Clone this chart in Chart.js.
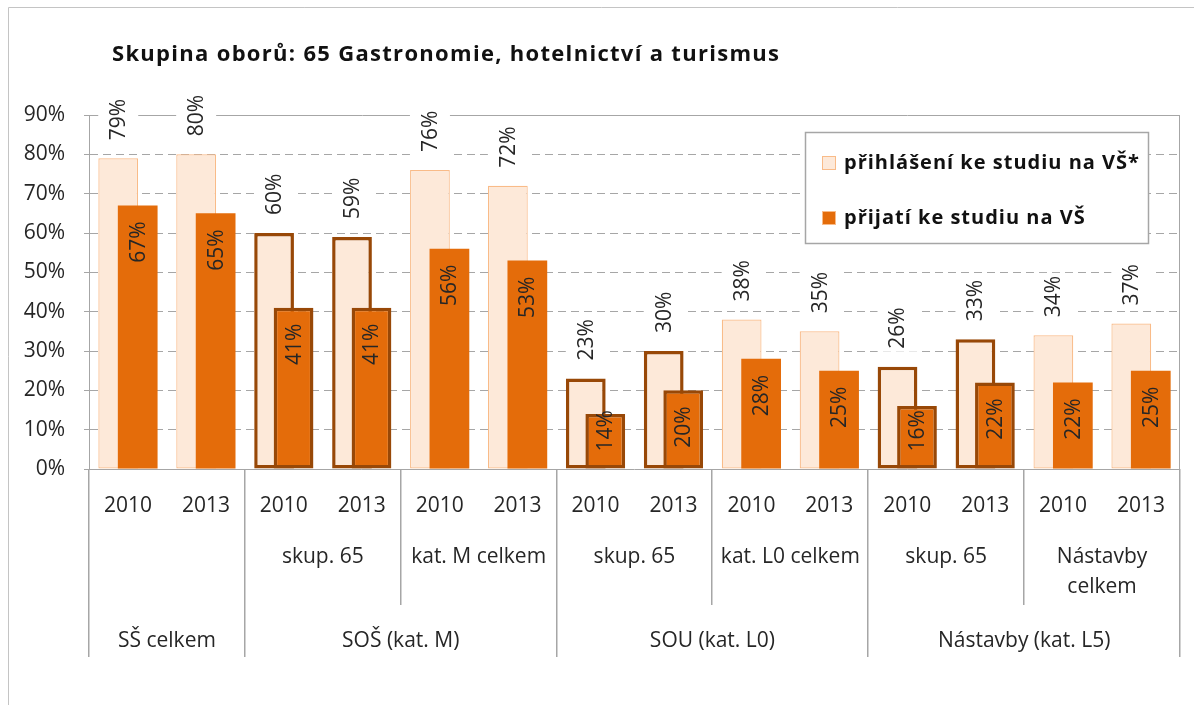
<!DOCTYPE html>
<html>
<head>
<meta charset="utf-8">
<style>
  html, body { margin: 0; padding: 0; background: #fff; }
</style>
<script src="https://cdn.jsdelivr.net/npm/chart.js"></script>
</head>
<body>
<canvas id="chart" width="1194" height="705"></canvas>
<script>
const chartTitle = 'Skupina oborů: 65 Gastronomie, hotelnictví a turismus';
const years = ['2010', '2013', '2010', '2013', '2010', '2013', '2010', '2013', '2010', '2013', '2010', '2013', '2010', '2013'];
const applied = [79, 80, 60, 59, 76, 72, 23, 30, 38, 35, 26, 33, 34, 37];
const admitted = [67, 65, 41, 41, 56, 53, 14, 20, 28, 25, 16, 22, 22, 25];
const subLabels = ['', 'skup. 65', 'kat. M celkem', 'skup. 65', 'kat. L0 celkem', 'skup. 65', ['Nástavby', 'celkem']];
const groupLabels = ['SŠ celkem', 'SOŠ (kat. M)', 'SOU (kat. L0)', 'Nástavby (kat. L5)'];
const groupSizes = [2, 4, 4, 4];
const seriesNames = ['přihlášení ke studiu na VŠ*', 'přijatí ke studiu na VŠ'];

const FONT = "'Open Sans', sans-serif";
const TEXT = '#262626';
const GRID = '#a6a6a6';
const LIGHT = '#fde9d9';
const LIGHT_EDGE = '#f9bb88';
const DARK = '#e46c0a';
const BROWN = '#984807';
const shift = 0.125;

// skup. 65 categories get the dark outline
const isHi = (i) => subLabels[Math.floor(i / 2)] === 'skup. 65';

const decor = {
  id: 'decor',
  beforeDraw(chart) {
    const { ctx, width, height } = chart;
    ctx.save();
    ctx.fillStyle = '#fff';
    ctx.fillRect(0, 0, width, height);
    ctx.strokeStyle = '#c4c4c4';
    ctx.lineWidth = 1;
    ctx.beginPath();
    ctx.moveTo(8.5, height);
    ctx.lineTo(8.5, 7.5);
    ctx.lineTo(width, 7.5);
    ctx.stroke();
    ctx.restore();
  },
  afterDatasetsDraw(chart) {
    const { ctx } = chart;
    ctx.save();
    ctx.font = `21px ${FONT}`;
    ctx.textBaseline = 'middle';
    ctx.textAlign = 'left';
    chart.getDatasetMeta(0).data.forEach((bar, i) => {
      const txt = Math.round(applied[i]) + '%';
      const w = ctx.measureText(txt).width;
      ctx.save();
      ctx.translate(bar.x, bar.y - 18);
      ctx.rotate(-Math.PI / 2);
      ctx.fillStyle = '#fff';
      ctx.fillRect(-3, -20, w + 6, 40);
      ctx.fillStyle = TEXT;
      ctx.fillText(txt, 0, 1);
      ctx.restore();
    });
    chart.getDatasetMeta(1).data.forEach((bar, i) => {
      const txt = Math.round(admitted[i]) + '%';
      const w = ctx.measureText(txt).width;
      const bottom = Math.min(bar.y + 16 + w, bar.base - 17);
      ctx.save();
      ctx.translate(bar.x, bottom);
      ctx.rotate(-Math.PI / 2);
      ctx.fillStyle = TEXT;
      ctx.fillText(txt, 0, 1);
      ctx.restore();
    });
    ctx.restore();
  },
  afterDraw(chart) {
    const { ctx, chartArea: a } = chart;
    const n = years.length;
    const cw = (a.right - a.left) / n;
    ctx.save();
    ctx.strokeStyle = GRID;
    ctx.lineWidth = 1;
    // plot border right + axis line
    ctx.beginPath();
    ctx.moveTo(a.right - 0.5, a.top);
    ctx.lineTo(a.right - 0.5, a.bottom);
    ctx.moveTo(a.left, a.bottom + 0.5);
    ctx.lineTo(a.right, a.bottom + 0.5);
    ctx.stroke();

    // multi level category separators
    ctx.lineWidth = 1.5;
    ctx.beginPath();
    let k = 0;
    const groupEdges = [0];
    groupSizes.forEach((s) => { k += s; groupEdges.push(k); });
    groupEdges.forEach((e) => {
      const x = Math.round(a.left + e * cw) - 0.25;
      ctx.moveTo(x, a.bottom);
      ctx.lineTo(x, 657);
    });
    for (let j = 1; j < subLabels.length; j++) {
      const e = j * 2;
      if (groupEdges.includes(e)) continue;
      const x = Math.round(a.left + e * cw) - 0.25;
      ctx.moveTo(x, a.bottom);
      ctx.lineTo(x, 605);
    }
    ctx.stroke();

    ctx.fillStyle = TEXT;
    ctx.font = `21px ${FONT}`;
    ctx.textAlign = 'center';
    ctx.textBaseline = 'middle';
    subLabels.forEach((lab, j) => {
      const cx = a.left + (j * 2 + 1) * cw;
      const lines = Array.isArray(lab) ? lab : [lab];
      lines.forEach((t, li) => ctx.fillText(t, cx, 557 + li * 30));
    });
    k = 0;
    groupLabels.forEach((lab, j) => {
      const cx = a.left + (k + groupSizes[j] / 2) * cw;
      k += groupSizes[j];
      ctx.fillText(lab, cx, 641);
    });

    // title
    ctx.textAlign = 'left';
    ctx.textBaseline = 'alphabetic';
    ctx.fillStyle = '#111';
    ctx.font = `bold 22px ${FONT}`;
    ctx.letterSpacing = '1.3px';
    ctx.fillText(chartTitle, 112, 61);

    // legend
    const lx = 805, ly = 132, lw = 343, lh = 111;
    ctx.letterSpacing = '0px';
    ctx.fillStyle = '#fff';
    ctx.fillRect(lx, ly, lw, lh);
    ctx.strokeStyle = GRID;
    ctx.lineWidth = 1.5;
    ctx.strokeRect(lx + 0.5, ly + 0.5, lw, lh);
    const rows = [163, 218];
    const fills = [LIGHT, DARK];
    ctx.font = `bold 20px ${FONT}`;
    ctx.letterSpacing = '1px';
    ctx.textBaseline = 'middle';
    rows.forEach((ry, r) => {
      ctx.fillStyle = fills[r];
      ctx.fillRect(822, ry - 7, 14, 14);
      ctx.strokeStyle = LIGHT_EDGE;
      ctx.lineWidth = 1;
      ctx.strokeRect(822.5, ry - 6.5, 13, 13);
      ctx.fillStyle = '#111';
      ctx.fillText(seriesNames[r], 844, ry);
    });
    ctx.restore();
  }
};

new Chart(document.getElementById('chart'), {
  type: 'bar',
  data: {
    labels: years,
    datasets: [
      {
        label: seriesNames[0],
        data: applied.map((v, i) => ({ x: i, y: v })),
        xAxisID: 'xa',
        order: 2,
        backgroundColor: LIGHT,
        borderColor: (c) => isHi(c.dataIndex) ? BROWN : LIGHT_EDGE,
        borderWidth: (c) => isHi(c.dataIndex) ? 3.5 : 1.2,
        borderSkipped: false,
        grouped: false,
        categoryPercentage: 1,
        barPercentage: 0.51
      },
      {
        label: seriesNames[1],
        data: admitted.map((v, i) => ({ x: i, y: v })),
        xAxisID: 'xb',
        order: 1,
        backgroundColor: DARK,
        borderColor: (c) => isHi(c.dataIndex) ? BROWN : DARK,
        borderWidth: (c) => isHi(c.dataIndex) ? 3.5 : 0,
        borderSkipped: false,
        grouped: false,
        categoryPercentage: 1,
        barPercentage: 0.51
      }
    ]
  },
  options: {
    responsive: false,
    animation: false,
    devicePixelRatio: 1,
    layout: { padding: { left: 0, top: 115, right: 14, bottom: 0 } },
    plugins: { legend: { display: false }, tooltip: { enabled: false }, title: { display: false } },
    scales: {
      x: {
        type: 'category',
        offset: true,
        grid: { display: false, drawTicks: false },
        border: { display: false },
        ticks: { font: { family: FONT, size: 21 }, color: TEXT, padding: 24, maxRotation: 0, autoSkip: false },
        afterFit: (s) => { s.height = 236; }
      },
      xa: {
        type: 'linear', display: false, offset: false,
        min: -0.5 + shift, max: years.length - 0.5 + shift,
        ticks: { stepSize: 1, includeBounds: false }
      },
      xb: {
        type: 'linear', display: false, offset: false,
        min: -0.5 - shift, max: years.length - 0.5 - shift,
        ticks: { stepSize: 1, includeBounds: false }
      },
      y: {
        min: 0, max: 90,
        ticks: { stepSize: 10, callback: (v) => v + '%', font: { family: FONT, size: 21 }, color: TEXT, padding: 19 },
        grid: { color: GRID, lineWidth: 1, tickLength: 5, drawTicks: true },
        border: { color: GRID, dash: (c) => (c.tick && c.tick.value === 90) ? [] : [8, 5] },
        afterFit: (s) => { s.width = 89; }
      }
    }
  },
  plugins: [decor]
});
</script>
</body>
</html>
